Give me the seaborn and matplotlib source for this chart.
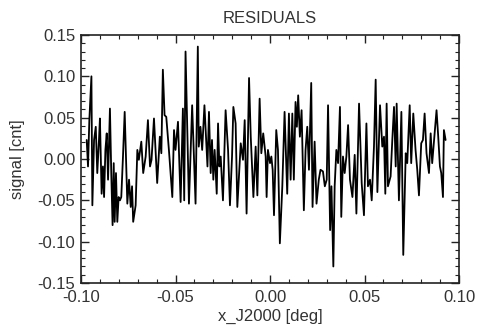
import numpy as np
import pandas as pd
import matplotlib
matplotlib.use("Agg")
import matplotlib.pyplot as plt
from matplotlib.ticker import MultipleLocator, FormatStrFormatter
import seaborn as sns

x_deg = [
    -0.0970, -0.0963, -0.0956, -0.0945, -0.0940, -0.0931, -0.0922, -0.0914, -0.0905, -0.0900,
    -0.0891, -0.0884, -0.0878, -0.0871, -0.0864, -0.0857, -0.0847, -0.0840, -0.0833, -0.0827,
    -0.0822, -0.0815, -0.0808, -0.0801, -0.0794, -0.0787, -0.0778, -0.0769, -0.0762, -0.0755,
    -0.0746, -0.0737, -0.0730, -0.0724, -0.0711, -0.0702, -0.0694, -0.0681, -0.0671, -0.0658,
    -0.0646, -0.0635, -0.0627, -0.0614, -0.0605, -0.0597, -0.0588, -0.0583, -0.0575, -0.0567,
    -0.0558, -0.0549, -0.0535, -0.0517, -0.0508, -0.0500, -0.0487, -0.0473, -0.0461, -0.0454,
    -0.0447, -0.0429, -0.0412, -0.0403, -0.0394, -0.0382, -0.0377, -0.0368, -0.0359, -0.0347,
    -0.0331, -0.0323, -0.0314, -0.0307, -0.0300, -0.0293, -0.0282, -0.0275, -0.0268, -0.0261,
    -0.0249, -0.0235, -0.0222, -0.0212, -0.0201, -0.0194, -0.0182, -0.0173, -0.0155, -0.0143,
    -0.0134, -0.0124, -0.0111, -0.0102, -0.0088, -0.0076, -0.0067, -0.0055, -0.0046, -0.0036,
    -0.0023, -0.0018, -0.0011, 0.0000, 0.0007, 0.0014, 0.0021, 0.0033, 0.0042, 0.0052,
    0.0065, 0.0077, 0.0091, 0.0100, 0.0109, 0.0118, 0.0126, 0.0135, 0.0142, 0.0149,
    0.0158, 0.0167, 0.0179, 0.0188, 0.0197, 0.0206, 0.0218, 0.0225, 0.0236, 0.0246,
    0.0258, 0.0267, 0.0280, 0.0290, 0.0300, 0.0307, 0.0318, 0.0325, 0.0335, 0.0342,
    0.0351, 0.0360, 0.0370, 0.0377, 0.0386, 0.0395, 0.0404, 0.0413, 0.0423, 0.0436,
    0.0448, 0.0457, 0.0471, 0.0485, 0.0497, 0.0510, 0.0518, 0.0529, 0.0538, 0.0550,
    0.0559, 0.0568, 0.0582, 0.0594, 0.0603, 0.0610, 0.0617, 0.0624, 0.0638, 0.0647,
    0.0656, 0.0665, 0.0670, 0.0682, 0.0695, 0.0705, 0.0718, 0.0726, 0.0739, 0.0747,
    0.0758, 0.0770, 0.0779, 0.0788, 0.0800, 0.0809, 0.0818, 0.0828, 0.0841, 0.0850,
    0.0858, 0.0871, 0.0881, 0.0890, 0.0899, 0.0906, 0.0915, 0.0920, 0.0929,
]

signal_cnt = [
    0.023, -0.009, 0.047, 0.100, -0.056, 0.023, 0.039, -0.017, 0.023, 0.049,
    -0.042, -0.009, -0.046, 0.011, 0.031, -0.025, 0.061, -0.017, -0.080, -0.005,
    -0.076, -0.017, -0.076, -0.046, -0.050, -0.046, 0.003, 0.057, 0.003, -0.054,
    -0.025, -0.058, -0.033, -0.076, -0.056, 0.011, -0.001, 0.021, -0.017, 0.003,
    0.047, -0.009, -0.001, 0.049, 0.007, -0.029, 0.007, 0.027, 0.007, 0.108,
    0.053, 0.051, 0.011, -0.046, 0.035, 0.011, 0.045, -0.052, 0.061, -0.050,
    0.130, -0.054, 0.065, 0.007, -0.054, 0.136, 0.015, 0.039, 0.011, 0.065,
    -0.009, 0.057, -0.017, 0.023, -0.025, 0.011, -0.042, 0.043, -0.009, 0.003,
    -0.050, 0.059, 0.011, -0.056, 0.003, 0.063, 0.043, -0.058, 0.019, -0.001,
    0.047, -0.066, 0.098, 0.027, -0.046, 0.015, -0.044, 0.073, 0.007, 0.031,
    0.003, -0.046, 0.011, -0.005, 0.003, -0.013, -0.068, 0.035, 0.011, -0.102,
    -0.033, 0.057, -0.042, 0.055, -0.025, 0.055, -0.025, 0.069, 0.039, 0.077,
    0.027, 0.059, -0.062, 0.011, 0.039, -0.013, 0.092, -0.058, 0.021, -0.054,
    -0.025, -0.013, -0.015, -0.033, -0.025, 0.065, -0.086, -0.033, -0.130, -0.033,
    0.011, -0.005, 0.063, -0.070, 0.003, -0.017, 0.003, 0.041, -0.025, -0.046,
    0.005, -0.066, 0.067, -0.029, -0.068, 0.043, -0.033, -0.025, -0.050, 0.015,
    0.096, -0.040, 0.065, 0.015, 0.027, -0.042, 0.067, -0.033, -0.021, 0.023,
    0.063, -0.009, 0.067, -0.050, 0.057, -0.116, 0.007, -0.005, 0.065, -0.005,
    0.055, 0.011, -0.013, -0.044, 0.019, 0.023, 0.055, 0.007, -0.017, 0.031,
    -0.005, 0.031, 0.059, 0.027, -0.009, -0.017, -0.046, 0.035, 0.023,
]

title_text = "RESIDUALS"
x_label = "x_J2000 [deg]"
y_label = "signal [cnt]"

df = pd.DataFrame({"x": x_deg, "y": signal_cnt})

sns.set_theme(style="ticks")
plt.rcParams["font.family"] = ["Liberation Sans", "DejaVu Sans"]

fig = plt.figure(figsize=(4.78, 3.29), dpi=100)
ax = fig.add_axes([0.1695, 0.1398, 0.7908, 0.7538])

sns.lineplot(data=df, x="x", y="y", sort=False, estimator=None,
             color="black", linewidth=1.3, ax=ax)

ax.set_xlim(-0.10, 0.10)
ax.set_ylim(-0.15, 0.15)
ax.xaxis.set_major_locator(MultipleLocator(0.05))
ax.xaxis.set_minor_locator(MultipleLocator(0.01))
ax.yaxis.set_major_locator(MultipleLocator(0.05))
ax.yaxis.set_minor_locator(MultipleLocator(0.01))
ax.xaxis.set_major_formatter(FormatStrFormatter("%.2f"))
ax.yaxis.set_major_formatter(FormatStrFormatter("%.2f"))

ax.tick_params(which="both", direction="in", top=True, right=True,
               colors="#222222", labelcolor="#333333", labelsize=12)
ax.tick_params(which="major", length=6, width=1.0)
ax.tick_params(which="minor", length=3, width=0.8)
ax.tick_params(axis="x", pad=5)
ax.tick_params(axis="y", pad=4)

for s in ax.spines.values():
    s.set_color("#222222")
    s.set_linewidth(1.2)

ax.set_title(title_text, fontsize=12, color="#333333", pad=9)
ax.set_xlabel(x_label, fontsize=12, color="#333333", labelpad=3)
ax.set_ylabel(y_label, fontsize=12, color="#333333", labelpad=9)

fig.savefig("out.png", dpi=100, facecolor="white")
